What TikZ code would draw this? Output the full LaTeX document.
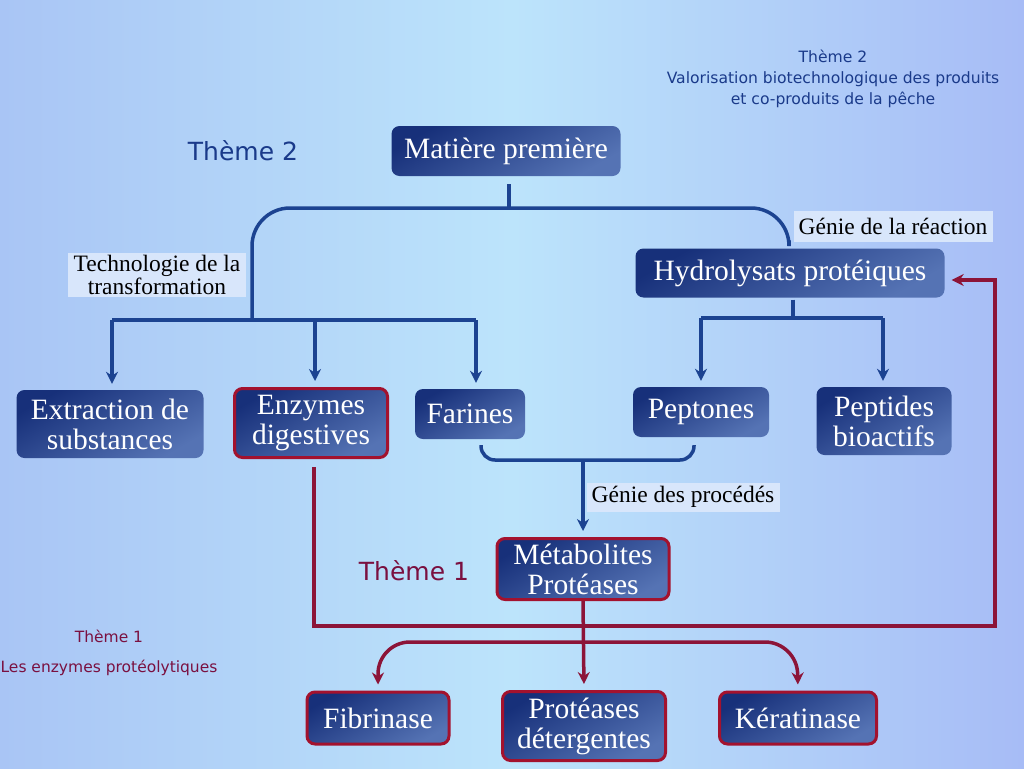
\documentclass[tikz,border=0pt]{standalone}
\usepackage{fontspec}
\setmainfont{Liberation Serif}
\newfontfamily\comicf{DejaVu Sans}
\usetikzlibrary{arrows.meta,calc}
\definecolor{bgL}{HTML}{A9C5F5}
\definecolor{bgM}{HTML}{BCE4FB}
\definecolor{bgR}{HTML}{A7BCF6}
\definecolor{navyA}{HTML}{17307A}
\definecolor{navyB}{HTML}{5573B4}
\definecolor{lineblue}{HTML}{1C4391}
\definecolor{linered}{HTML}{8C1438}
\definecolor{boxred}{HTML}{A3122E}
\definecolor{themeblue}{HTML}{1A3A8A}
\definecolor{themered}{HTML}{7A1040}
\definecolor{labelbg}{HTML}{D8E6FB}
\tikzset{
  box/.style={rounded corners=8pt, text=white, align=center, inner sep=0pt,
    top color=navyA, bottom color=navyB, shading angle=30,
    font=\fontsize{29.5}{30}\selectfont},
  redbox/.style={box, draw=boxred, line width=3pt},
  lab/.style={fill=labelbg, text=black, align=center, inner sep=0pt,
    font=\fontsize{23.5}{19}\selectfont},
  bl/.style={draw=lineblue, line width=3.5pt},
  rl/.style={draw=linered, line width=3.5pt},
  tipb/.style={-{Stealth[length=12pt,width=12pt]}},
  theme/.style={font=\comicf\fontsize{15.6}{21}\selectfont, align=center}
}
\begin{document}
\begin{tikzpicture}[x=1pt,y=-1pt]
\useasboundingbox (0,0) rectangle (1024,768);
\shade[left color=bgL, right color=bgR, middle color=bgM] (0,0) rectangle (1024,768);

% Boxes
\node[box, minimum width=229, minimum height=50] (mat) at (506,151) {Matière première};
\node[box, minimum width=309, minimum height=49] (hyd) at (790,273) {Hydrolysats protéiques};
\node[box, minimum width=187, minimum height=68] (ext) at (110,424) {Extraction de\\substances};
\node[redbox, minimum width=153, minimum height=69] (enz) at (311,423) {Enzymes\\digestives};
\node[box, minimum width=110, minimum height=50] (far) at (470,414) {Farines};
\node[box, minimum width=136, minimum height=50] (pep) at (701,412) {Peptones};
\node[box, minimum width=135, minimum height=68] (pbio) at (884,421) {Peptides\\bioactifs};
\node[redbox, minimum width=172, minimum height=61] (met) at (583,569) {Métabolites\\Protéases};
\node[redbox, minimum width=142, minimum height=52] (fib) at (378,718) {Fibrinase};
\node[redbox, minimum width=163, minimum height=69] (pdet) at (584,726) {Protéases\\détergentes};
\node[redbox, minimum width=157, minimum height=52] (ker) at (798,718) {Kératinase};

% Labels
\node[lab, minimum width=178, minimum height=44] (tech) at (157,275) {Technologie de la\\transformation};
\node[lab, minimum width=199, minimum height=31] (gr) at (893,226) {Génie de la réaction};
\node[lab, minimum width=193, minimum height=29] (gp) at (683,497) {Génie des procédés};

% Theme texts
\node[theme, text=themeblue, font=\comicf\fontsize{25}{28}\selectfont] (t2) at (243,151) {Thème 2};
\node[theme, text=themered, font=\comicf\fontsize{25}{28}\selectfont] (t1) at (414,571) {Thème 1};
\node[theme, text=themeblue] (t2b) at (833,79) {Thème 2\\Valorisation biotechnologique des produits\\et co-produits de la pêche};
\node[theme, text=themered, font=\comicf\fontsize{15.5}{30}\selectfont] (t1b) at (109,653) {Thème 1\\Les enzymes protéolytiques};

% Blue tree top
\coordinate (top) at (509,208);
\draw[bl] ($(mat.south)+(3,8)$) -- (top);
\draw[bl, rounded corners=38pt] (252,320) -- (252,208) -- (789,208) -- ($(hyd.north)+(-1,-8)$);
% left branch
\draw[bl] (112,320) -- (476,320);
\draw[bl, tipb, shorten >=6pt] (112,320) -- ($(ext.north)+(2,0)$);
\draw[bl, tipb, shorten >=6pt] (315,320) -- ($(enz.north)+(4,0)$);
\draw[bl, tipb, shorten >=6pt] (476,320) -- ($(far.north)+(6,0)$);
% right branch
\draw[bl] ($(hyd.south)+(3,2)$) -- (793,318);
\draw[bl] (701,318) -- (883,318);
\draw[bl, tipb, shorten >=6pt] (701,318) -- (pep.north);
\draw[bl, tipb, shorten >=6pt] (883,318) -- ($(pbio.north)+(-1,0)$);
% bracket
\draw[bl, rounded corners=14pt] ($(far.south)+(11,6)$) -- (481,460) -- (694,460) -- ($(pep.south)+(-7,8)$);
\draw[bl, tipb, shorten >=6pt] (583,460) -- (met.north);

% Red connectors
\draw[rl, tipb, shorten >=7pt] ($(enz.south)+(3,8)$) -- (314,626) -- (995,626) -- (995,280) -- (hyd.east |- 0,280);
\draw[rl, tipb, shorten >=6pt] (met.south) -- (pdet.north);
\draw[rl, {Stealth[length=12pt,width=12pt]}-{Stealth[length=12pt,width=12pt]}, rounded corners=32pt, shorten <=6pt, shorten >=6pt] (fib.north) -- (378,642) -- (797,642) -- (ker.north);
\end{tikzpicture}
\end{document}
